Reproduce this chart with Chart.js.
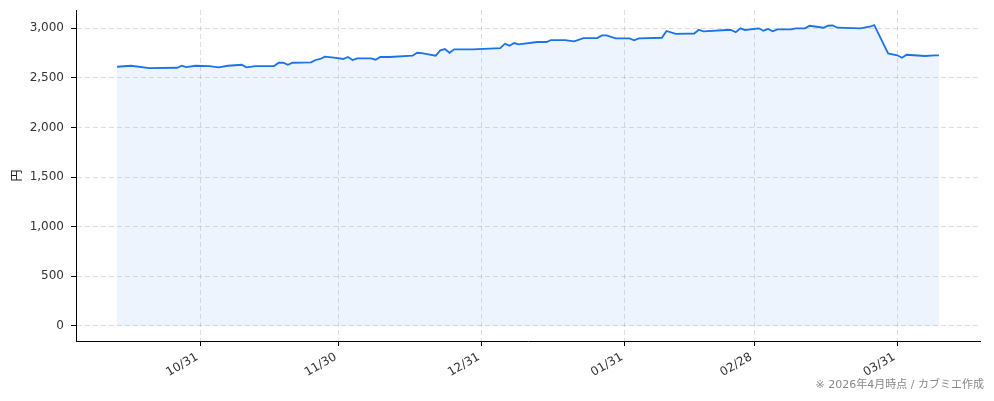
<!DOCTYPE html>
<html>
<head>
<meta charset="utf-8">
<script src="https://cdn.jsdelivr.net/npm/chart.js@4.4.1/dist/chart.umd.min.js"></script>
<style>
  html, body { margin: 0; padding: 0; background: #fff; }
  #wrap { width: 994px; height: 401px; position: relative; }
</style>
</head>
<body>
<div id="wrap"><canvas id="priceChart"></canvas></div>
<script>
// price series
const dates = [
    '2025-10-13', '2025-10-16', '2025-10-20', '2025-10-26', '2025-10-27', '2025-10-28', '2025-10-30',
    '2025-11-02', '2025-11-04', '2025-11-06', '2025-11-09', '2025-11-10', '2025-11-12', '2025-11-16',
    '2025-11-17', '2025-11-18', '2025-11-19', '2025-11-20', '2025-11-24', '2025-11-25', '2025-11-26',
    '2025-11-27', '2025-11-29', '2025-12-01', '2025-12-02', '2025-12-03', '2025-12-04', '2025-12-07',
    '2025-12-08', '2025-12-09', '2025-12-11', '2025-12-16', '2025-12-17', '2025-12-18', '2025-12-21',
    '2025-12-22', '2025-12-23', '2025-12-24', '2025-12-25', '2025-12-29', '2026-01-04', '2026-01-05',
    '2026-01-06', '2026-01-07', '2026-01-08', '2026-01-12', '2026-01-14', '2026-01-15', '2026-01-18',
    '2026-01-20', '2026-01-22', '2026-01-25', '2026-01-26', '2026-01-27', '2026-01-29', '2026-02-01',
    '2026-02-02', '2026-02-03', '2026-02-08', '2026-02-09', '2026-02-11', '2026-02-15', '2026-02-16',
    '2026-02-17', '2026-02-22', '2026-02-23', '2026-02-24', '2026-02-25', '2026-02-26', '2026-03-01',
    '2026-03-02', '2026-03-03', '2026-03-04', '2026-03-05', '2026-03-08', '2026-03-09', '2026-03-11',
    '2026-03-12', '2026-03-15', '2026-03-16', '2026-03-17', '2026-03-18', '2026-03-23', '2026-03-25',
    '2026-03-26', '2026-03-29', '2026-03-31', '2026-04-01', '2026-04-02', '2026-04-06', '2026-04-08',
    '2026-04-09'
];
const prices = [
    2611, 2621, 2598, 2601, 2621, 2608, 2621,
    2618, 2605, 2621, 2631, 2605, 2618, 2618,
    2651, 2651, 2631, 2651, 2655, 2679, 2689,
    2712, 2702, 2689, 2709, 2679, 2696, 2696,
    2682, 2709, 2709, 2722, 2752, 2749, 2722,
    2776, 2789, 2752, 2786, 2786, 2799, 2843,
    2823, 2850, 2837, 2860, 2860, 2880, 2880,
    2867, 2900, 2900, 2927, 2927, 2897, 2897,
    2877, 2897, 2903, 2971, 2943, 2946, 2984,
    2968, 2981, 2981, 2958, 2998, 2981, 2998,
    2974, 2991, 2968, 2988, 2988, 2998, 2998,
    3024, 3004, 3024, 3028, 3004, 2998, 3014,
    3031, 2746, 2726, 2702, 2732, 2719, 2726,
    2726
];
const tickDates = ['2025-10-31', '2025-11-30', '2025-12-31', '2026-01-31', '2026-02-28', '2026-03-31'];
const tickLabels = ['10/31', '11/30', '12/31', '01/31', '02/28', '03/31'];
const yTicks = [0, 500, 1000, 1500, 2000, 2500, 3000];

// days counted from the first tick date
const base = Date.UTC(2025, 9, 31);
function dayOf(s) {
    const p = s.split('-');
    return (Date.UTC(+p[0], +p[1] - 1, +p[2]) - base) / 86400000;
}
const points = dates.map((d, i) => ({ x: dayOf(d), y: prices[i] }));
const tickDays = tickDates.map(dayOf);

// matplotlib style 5% margins
const xFirst = points[0].x, xLast = points[points.length - 1].x;
const xPad = (xLast - xFirst) * 0.05;
const yTop = Math.max(...prices);
const yPad = yTop * 0.05;

const FONT = "'DejaVu Sans', 'Noto Sans CJK JP', sans-serif";
const gridColor = 'rgba(0,0,20,0.13)';

const footnote = {
    id: 'footnote',
    afterDraw(chart) {
        const ctx = chart.ctx;
        ctx.save();
        ctx.font = "11px 'DejaVu Sans', 'Noto Sans CJK JP', sans-serif";
        ctx.fillStyle = '#888';
        ctx.textAlign = 'right';
        ctx.textBaseline = 'middle';
        ctx.fillText('※ 2026年4月時点 / カブミエ作成', 984, 385);
        ctx.restore();
    }
};

const config = {
    type: 'line',
    data: {
        datasets: [{
            label: '円',
            data: points,
            borderColor: '#1a73e8',
            backgroundColor: 'rgba(26,115,232,0.08)',
            borderWidth: 1.8,
            pointRadius: 0,
            tension: 0,
            fill: 'origin'
        }]
    },
    options: {
        responsive: true,
        maintainAspectRatio: false,
        animation: false,
        layout: { padding: { left: 0, right: 14, top: 10, bottom: 0 } },
        plugins: {
            legend: { display: false },
            tooltip: { enabled: false }
        },
        scales: {
            x: {
                type: 'linear',
                min: xFirst - xPad,
                max: xLast + xPad,
                afterBuildTicks: scale => {
                    scale.ticks = tickDays.map(v => ({ value: v }));
                },
                afterFit: scale => { scale.height = 60; },
                ticks: {
                    autoSkip: false,
                    minRotation: 30,
                    maxRotation: 30,
                    labelOffset: -3,
                    padding: 4,
                    color: '#333',
                    font: { family: FONT, size: 12 },
                    callback: (v) => tickLabels[tickDays.indexOf(v)]
                },
                grid: {
                    color: gridColor,
                    tickColor: '#000',
                    tickLength: 5,
                    tickBorderDash: []
                },
                border: { display: true, color: '#000', width: 1, dash: [5, 3] }
            },
            y: {
                min: -yPad,
                max: yTop + yPad,
                afterBuildTicks: scale => {
                    scale.ticks = yTicks.map(v => ({ value: v }));
                },
                afterFit: scale => {
                    scale.width = 76;
                    scale.paddingTop = 0;
                    scale.paddingBottom = 0;
                },
                title: {
                    display: true,
                    text: '円',
                    color: '#222',
                    font: { family: FONT, size: 12 },
                    padding: { top: 11, bottom: 0 }
                },
                ticks: {
                    padding: 7,
                    color: '#333',
                    font: { family: FONT, size: 12 },
                    callback: v => v.toLocaleString('en-US')
                },
                grid: {
                    color: gridColor,
                    tickColor: '#000',
                    tickLength: 5,
                    tickBorderDash: []
                },
                border: { display: true, color: '#000', width: 1, dash: [5, 3] }
            }
        }
    },
    plugins: [footnote]
};

const myChart = new Chart(
    document.getElementById('priceChart'),
    config
);
</script>
</body>
</html>
